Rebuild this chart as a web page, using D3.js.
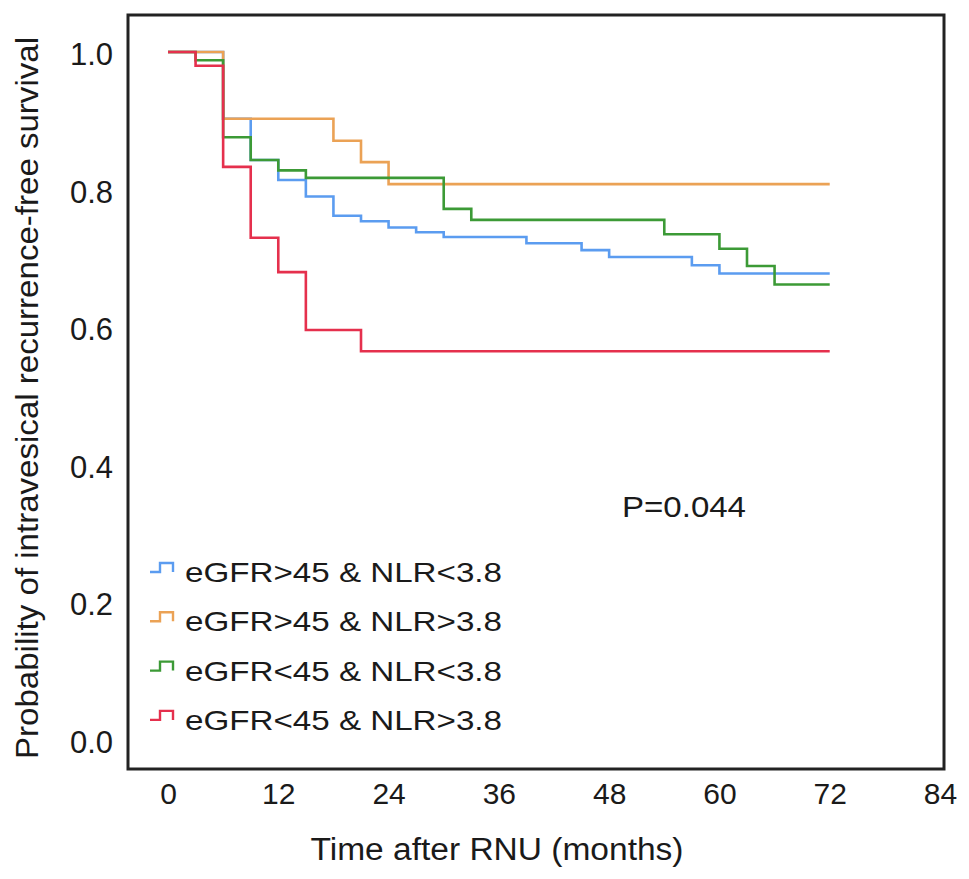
<!DOCTYPE html>
<html>
<head>
<meta charset="utf-8">
<script src="https://cdn.jsdelivr.net/npm/d3@7"></script>
<style>
    body { margin: 0; background: #fff; }
    svg text { font-family: "Liberation Sans", Arial, sans-serif; fill: #1a1a1a; }
</style>
</head>
<body>
<svg id="chart"></svg>
<script>
// Kaplan-Meier step data
const groups = ["eGFR>45 & NLR<3.8", "eGFR>45 & NLR>3.8", "eGFR<45 & NLR<3.8", "eGFR<45 & NLR>3.8"];
const colors = ["#5b9cf0", "#eba255", "#3c9a36", "#e5304d"];

const blueTimes = [0, 6, 9, 12, 15, 18, 21, 24, 27, 30, 39, 45, 48, 57, 60, 72];
const blueSurv = [1, 0.903, 0.843, 0.814, 0.790, 0.762, 0.754, 0.745, 0.738, 0.731, 0.722, 0.712, 0.702, 0.690, 0.678, 0.678];

const orangeTimes = [0, 6, 18, 21, 24, 72];
const orangeSurv = [1, 0.903, 0.871, 0.840, 0.808, 0.808];

const greenTimes = [0, 3, 6, 9, 12, 15, 30, 33, 54, 60, 63, 66, 72];
const greenSurv = [1, 0.988, 0.876, 0.843, 0.828, 0.817, 0.772, 0.756, 0.735, 0.714, 0.689, 0.662, 0.662];

const redTimes = [0, 3, 6, 9, 12, 15, 21, 72];
const redSurv = [1, 0.980, 0.833, 0.730, 0.680, 0.596, 0.565, 0.565];

const xTicks = [0, 12, 24, 36, 48, 60, 72, 84];
const yTicks = [0, 0.2, 0.4, 0.6, 0.8, 1.0];
const pValueText = "P=0.044";

(function () {
    const width = 969, height = 879;
    const box = {left: 128, top: 15, right: 944, bottom: 769};

    const svg = d3.select("#chart")
        .attr("width", width)
        .attr("height", height);

    const x = d3.scaleLinear().domain([0, 84]).range([168, 940]);
    const y = d3.scaleLinear().domain([0, 1]).range([740, 52]);

    // y axis labels only
    const yAxis = svg.append("g")
        .attr("transform", `translate(${box.left},0)`)
        .call(d3.axisLeft(y).tickValues(yTicks).tickFormat(d3.format(".1f")).tickSize(0).tickPadding(15));
    yAxis.select(".domain").remove();
    yAxis.selectAll("text").style("font-size", "31px").attr("dy", "0.4em");

    const xAxis = svg.append("g")
        .attr("transform", `translate(0,${box.bottom})`)
        .call(d3.axisBottom(x).tickValues(xTicks).tickSize(0).tickPadding(14));
    xAxis.select(".domain").remove();
    xAxis.selectAll("text").style("font-size", "30px");

    const series = [
        {times: blueTimes, surv: blueSurv},
        {times: orangeTimes, surv: orangeSurv},
        {times: greenTimes, surv: greenSurv},
        {times: redTimes, surv: redSurv}
    ];

    const line = d3.line()
        .x(d => x(d[0]))
        .y(d => y(d[1]))
        .curve(d3.curveStepAfter);

    series.forEach(function (s, i) {
        svg.append("path")
            .datum(d3.zip(s.times, s.surv))
            .attr("d", line)
            .attr("fill", "none")
            .attr("stroke", colors[i])
            .attr("stroke-width", 2.6);
    });

    // frame
    svg.append("rect")
        .attr("x", box.left)
        .attr("y", box.top)
        .attr("width", box.right - box.left)
        .attr("height", box.bottom - box.top)
        .attr("fill", "none")
        .attr("stroke", "#222")
        .attr("stroke-width", 3);

    // legend
    const legend = svg.append("g");
    groups.forEach(function (g, i) {
        const by = 582 + i * 49.3;
        legend.append("path")
            .attr("d", `M150,${by - 10}H160V${by - 19}H173V${by - 10}`)
            .attr("fill", "none")
            .attr("stroke", colors[i])
            .attr("stroke-width", 2.4);
        legend.append("text")
            .attr("x", 185)
            .attr("y", by)
            .attr("textLength", 317)
            .attr("lengthAdjust", "spacingAndGlyphs")
            .style("font-size", "28px")
            .text(g);
    });

    svg.append("text")
        .attr("x", 622)
        .attr("y", 517)
        .attr("textLength", 124)
        .attr("lengthAdjust", "spacingAndGlyphs")
        .style("font-size", "30px")
        .text(pValueText);

    svg.append("text")
        .attr("x", 497)
        .attr("y", 860)
        .attr("text-anchor", "middle")
        .attr("textLength", 373)
        .attr("lengthAdjust", "spacingAndGlyphs")
        .style("font-size", "31px")
        .text("Time after RNU (months)");

    svg.append("text")
        .attr("transform", "translate(38,398) rotate(-90)")
        .attr("text-anchor", "middle")
        .attr("textLength", 722)
        .attr("lengthAdjust", "spacingAndGlyphs")
        .style("font-size", "32px")
        .text("Probability of intravesical recurrence-free survival");
})();
</script>
</body>
</html>
